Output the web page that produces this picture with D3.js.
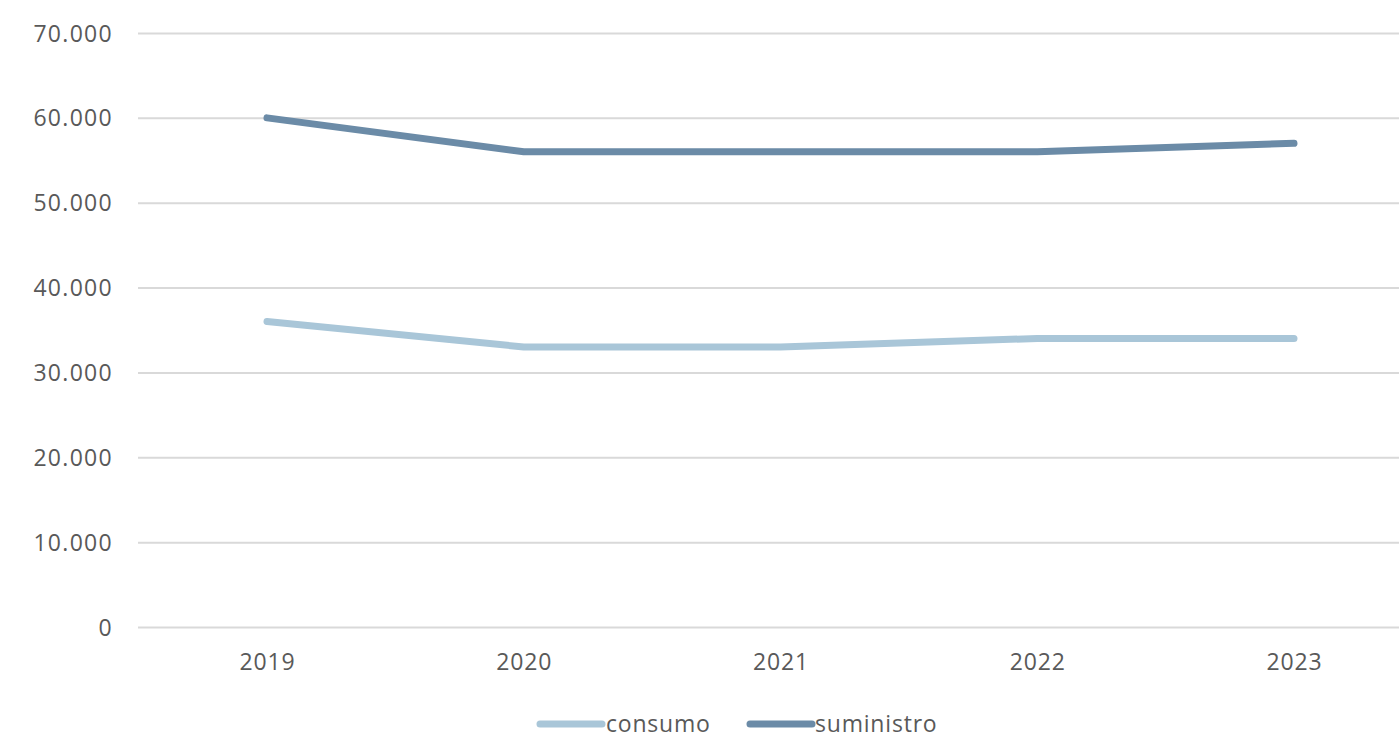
<!DOCTYPE html>
<html><head><meta charset="utf-8">
<script src="https://cdn.jsdelivr.net/npm/d3@7"></script>
<style>body{margin:0;background:#fff;overflow:hidden}svg{display:block}text{font-family:"Open Sans",sans-serif;fill:#595959}</style>
</head><body>
<script>
const categories = ["2019","2020","2021","2022","2023"];
const consumo = [36000,33000,33000,34000,34000];
const suministro = [60000,56000,56000,56000,57000];
const yTicks = [0,10000,20000,30000,40000,50000,60000,70000];
const seriesNames = ["consumo","suministro"];
const colors = ["#a9c6d8","#6b8ba7"];

const W=1399,H=738;
const svg=d3.select("body").append("svg").attr("width",W).attr("height",H);
const x=d3.scalePoint().domain(categories).range([267,1294]);
const y=d3.scaleLinear().domain([0,70000]).range([627,33]);
const fmt=d=>d3.format(",")(d).replace(/,/g,".");

const yAxis=svg.append("g").attr("transform","translate(138,0)")
  .call(d3.axisLeft(y).tickValues(yTicks).tickSize(-(W-138)).tickPadding(25).tickFormat(fmt));
yAxis.select(".domain").remove();
yAxis.selectAll("line").attr("stroke","#d9d9d9").attr("stroke-width",2);
yAxis.selectAll("text").style("font-size","23px").attr("letter-spacing","1.3px").attr("fill","#595959").attr("dy","0.35em");

const xAxis=svg.append("g").attr("transform","translate(0,627)")
  .call(d3.axisBottom(x).tickSize(0).tickPadding(27));
xAxis.select(".domain").remove();
xAxis.selectAll("text").style("font-size","23px").attr("letter-spacing","0.8px").attr("fill","#595959");

const line=d3.line().x((d,i)=>x(categories[i])).y(d=>y(d));
[consumo,suministro].forEach((s,k)=>{
  svg.append("path").datum(s).attr("d",line).attr("fill","none")
    .attr("stroke",colors[k]).attr("stroke-width",7).attr("stroke-linecap","round").attr("stroke-linejoin","round");
});

const leg=[{x:540,tx:606},{x:750,tx:815}];
seriesNames.forEach((n,k)=>{
  svg.append("line").attr("x1",leg[k].x).attr("x2",leg[k].x+62).attr("y1",724).attr("y2",724)
    .attr("stroke",colors[k]).attr("stroke-width",7).attr("stroke-linecap","round");
  svg.append("text").attr("x",leg[k].tx).attr("y",724).attr("dy","0.35em").style("font-size","23px").attr("letter-spacing","0.8px").text(n);
});
</script>
</body></html>
